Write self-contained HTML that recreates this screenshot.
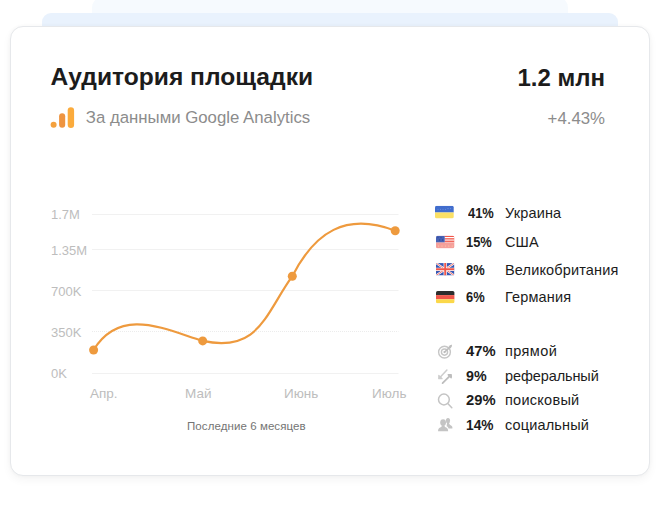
<!DOCTYPE html>
<html lang="ru"><head><meta charset="utf-8">
<style>
html,body{margin:0;padding:0;background:#fff;}
body{width:660px;height:523px;overflow:hidden;position:relative;font-family:"Liberation Sans",sans-serif;color:#1c1c1c;}
.bg1{position:absolute;left:92px;top:-4px;width:476px;height:34px;background:#f6fafe;border-radius:12px 12px 0 0;}
.bg2{position:absolute;left:42px;top:13px;width:576px;height:30px;background:#e9f2fd;border-radius:9px 9px 0 0;}
.card{position:absolute;left:10.4px;top:26px;width:639.2px;height:450px;background:#fff;border:1px solid #e6e8eb;border-radius:13px;box-sizing:border-box;box-shadow:0 4px 10px rgba(0,0,0,0.045),0 0 4px rgba(0,0,0,0.03);}
.t{position:absolute;white-space:nowrap;}
.title{left:50.5px;top:62.5px;font-size:24.6px;font-weight:bold;line-height:28px;}
.big{right:55px;top:63.5px;font-size:24px;font-weight:bold;line-height:28px;}
.sub{left:85.8px;top:109.2px;font-size:16.8px;color:#8c8c8c;line-height:18px;}
.pct{right:55px;top:109.5px;font-size:16.8px;color:#8c8c8c;line-height:18px;}
.yl{left:51px;font-size:13px;color:#bdbdbd;line-height:16px;}
.xl{top:386px;font-size:13.5px;color:#bdbdbd;line-height:16px;}
.cap{left:187px;top:419px;font-size:11.5px;color:#747474;line-height:14px;letter-spacing:0.08px;}
.n{left:466px;font-size:14.5px;font-weight:bold;line-height:18px;transform-origin:0 50%;transform:scaleX(.89);}
.n2{font-size:15px;transform:scaleX(.985);}
.l{left:505px;font-size:14.5px;line-height:18px;letter-spacing:0.15px;}
</style></head><body>
<div class="bg1"></div><div class="bg2"></div><div class="card"></div>
<div class="t title">Аудитория площадки</div>
<div class="t big">1.2 млн</div>
<div class="t sub">За данными Google Analytics</div>
<div class="t pct">+4.43%</div>
<svg style="position:absolute;left:0;top:0" width="660" height="523" viewBox="0 0 660 523">
<!-- GA icon -->
<circle cx="53.6" cy="124.7" r="3" fill="#f4a13e"/>
<rect x="59.1" y="113.2" width="6.1" height="14.6" rx="3" fill="#ee9440"/>
<rect x="67.7" y="107.3" width="6.4" height="20.7" rx="3.2" fill="#fbab3c"/>
<!-- grid -->
<g stroke="#f1f1f1" stroke-width="1">
<line x1="92" x2="398.5" y1="214.5" y2="214.5"/><line x1="92" x2="398.5" y1="249.5" y2="249.5"/><line x1="92" x2="398.5" y1="290.5" y2="290.5"/><line x1="92" x2="398.5" y1="331.5" y2="331.5" stroke-dasharray="1 1" stroke="#ececec"/><line x1="92" x2="398.5" y1="373.5" y2="373.5"/>
</g>
<path d="M93.5 350.0 C120.7 306.0 165.0 329.5 202.7 340.9 C258.8 353.1 265.3 314.0 292.3 276.2 C314.8 232.2 345.6 211.8 395.2 230.7" fill="none" stroke="#ee9a3e" stroke-width="2.2" stroke-linecap="round"/>
<g fill="#ee9a3e"><circle cx="93.6" cy="350" r="4.5"/><circle cx="202.7" cy="340.9" r="4.5"/><circle cx="292.3" cy="276.2" r="4.5"/><circle cx="395.2" cy="230.7" r="4.5"/></g>
<!-- flags -->
<defs>
<clipPath id="f1"><rect x="435" y="205.8" width="18.7" height="12.6" rx="1.6"/></clipPath>
<clipPath id="f2"><rect x="436" y="235.7" width="18.3" height="12.6" rx="1.6"/></clipPath>
<clipPath id="f3"><rect x="436" y="263.1" width="18.4" height="12.4" rx="1.6"/></clipPath>
<clipPath id="f4"><rect x="436" y="290.9" width="18.4" height="12.4" rx="1.6"/></clipPath>
</defs>
<g clip-path="url(#f1)"><rect x="435" y="205.8" width="19" height="6.7" fill="#416dcd"/><g fill="#6f93dd"><circle cx="438" cy="209.2" r="0.5"/><circle cx="440.5" cy="209.2" r="0.5"/><circle cx="443" cy="209.2" r="0.5"/><circle cx="445.5" cy="209.2" r="0.5"/><circle cx="448" cy="208.6" r="0.6"/><circle cx="450.6" cy="208.6" r="0.6"/></g><rect x="435" y="212.5" width="19" height="6" fill="#fbe065"/></g>
<g clip-path="url(#f2)">
<rect x="436" y="235.7" width="19" height="13" fill="#f59f9a"/>
<rect x="436" y="235.7" width="19" height="6.6" fill="#fff"/>
<rect x="444.5" y="235.7" width="10" height="1.3" fill="#f0564a"/><rect x="444.5" y="238.2" width="10" height="1.3" fill="#f0564a"/><rect x="444.5" y="240.6" width="10" height="1.3" fill="#f0564a"/>
<rect x="436" y="235.7" width="8.7" height="6.6" fill="#4560b5"/>
<g fill="#33498f"><circle cx="438" cy="237.6" r="0.7"/><circle cx="441" cy="237.6" r="0.7"/><circle cx="439.5" cy="240" r="0.7"/><circle cx="442.6" cy="240" r="0.7"/></g>
<g fill="#fbd9a8"><circle cx="438.5" cy="246" r="0.55"/><circle cx="442" cy="246" r="0.55"/><circle cx="445.4" cy="246" r="0.55"/><circle cx="448.8" cy="246" r="0.55"/><circle cx="452.2" cy="246" r="0.55"/></g>
</g>
<g clip-path="url(#f3)">
<rect x="436" y="263.1" width="18.4" height="12.4" fill="#3657b3"/>
<path d="M436 263.1L454.4 275.5M454.4 263.1L436 275.5" stroke="#fff" stroke-width="2.1"/>
<path d="M436 263.1L454.4 275.5M454.4 263.1L436 275.5" stroke="#f0564a" stroke-width="0.8"/>
<path d="M445.2 263.1V275.5M436 269.3H454.4" stroke="#fff" stroke-width="3.2"/>
<path d="M445.2 263.1V275.5M436 269.3H454.4" stroke="#f0564a" stroke-width="1.9"/>
</g>
<g clip-path="url(#f4)"><rect x="436" y="290.9" width="19" height="4.2" fill="#2d2d2d"/><rect x="436" y="295.1" width="19" height="4.2" fill="#f0564a"/><rect x="436" y="299.3" width="19" height="4.2" fill="#fbd84a"/></g>
<!-- icons -->
<g fill="none" stroke="#c6c6c6" stroke-width="1.4" stroke-linecap="round">
<circle cx="444.5" cy="352.1" r="5.9"/><circle cx="444.5" cy="352.1" r="3.1"/>
<path d="M444.5 352.1L450.8 346.4" stroke-width="1.5" stroke="#bdbdbd"/>
<circle cx="444.5" cy="352.1" r="1.1" fill="#bdbdbd" stroke="none"/>
<path d="M449.2 346.3l2.4 -1.3 -1 2.7z" fill="#bdbdbd" stroke="#bdbdbd" stroke-width="0.9"/>
</g>
<g fill="none" stroke-linecap="round" stroke-linejoin="round">
<path d="M446.9 370L439.2 378.2" stroke-width="1.5" stroke="#cdcdcd"/><path d="M438.8 375.4v3.3h3.3z" stroke-width="1.2" stroke="#cdcdcd" fill="#cdcdcd"/>
<path d="M442.6 383.1L450.4 375.4" stroke-width="1.8" stroke="#bdbdbd"/><path d="M448.2 374.7h3v3z" stroke-width="1.4" stroke="#bdbdbd" fill="#bdbdbd"/>
</g>
<g fill="none" stroke="#c4c4c4" stroke-width="1.5" stroke-linecap="round">
<circle cx="443.9" cy="399.5" r="5.4"/><path d="M448 403.7L451.8 407.7"/>
</g>
<g fill="#c4c4c4">
<ellipse cx="448" cy="420.7" rx="2.1" ry="2.7"/><path d="M447 423L449 423C449.3 424.5 450 425 451 425.4C452.2 426 452.6 426.8 452.4 428.4L448.6 428.4C448.2 427.3 447.4 426.6 446.6 426.2Z"/>
<ellipse cx="443.1" cy="422.6" rx="2.9" ry="3.4"/><path d="M438 431.2C438 428.5 439.5 427.6 441.3 427L442 425.5h2.4L445 427C446.8 427.6 448.2 428.5 448.2 431.2Z"/>
</g>
</svg>
<div class="t yl" style="top:207px">1.7M</div>
<div class="t yl" style="top:243px">1.35M</div>
<div class="t yl" style="top:284px">700K</div>
<div class="t yl" style="top:325px">350K</div>
<div class="t yl" style="top:366px">0K</div>
<div class="t xl" style="left:90px">Апр.</div>
<div class="t xl" style="left:185px">Май</div>
<div class="t xl" style="left:284px">Июнь</div>
<div class="t xl" style="left:372px">Июль</div>
<div class="t cap">Последние 6 месяцев</div>
<div class="t n" style="top:204px;left:467.5px">41%</div><div class="t l" style="top:204px">Украина</div>
<div class="t n" style="top:233px">15%</div><div class="t l" style="top:233px">США</div>
<div class="t n" style="top:261px">8%</div><div class="t l" style="top:261px">Великобритания</div>
<div class="t n" style="top:288px">6%</div><div class="t l" style="top:288px">Германия</div>
<div class="t n n2" style="top:342px">47%</div><div class="t l" style="top:342px;letter-spacing:0.42px">прямой</div>
<div class="t n n2" style="top:366.6px;transform:scaleX(.95)">9%</div><div class="t l" style="top:366.6px;letter-spacing:-0.1px">реферальный</div>
<div class="t n n2" style="top:390.7px">29%</div><div class="t l" style="top:390.7px;letter-spacing:0.27px">поисковый</div>
<div class="t n n2" style="top:415.6px;transform:scaleX(.915)">14%</div><div class="t l" style="top:415.6px">социальный</div>
</body></html>
